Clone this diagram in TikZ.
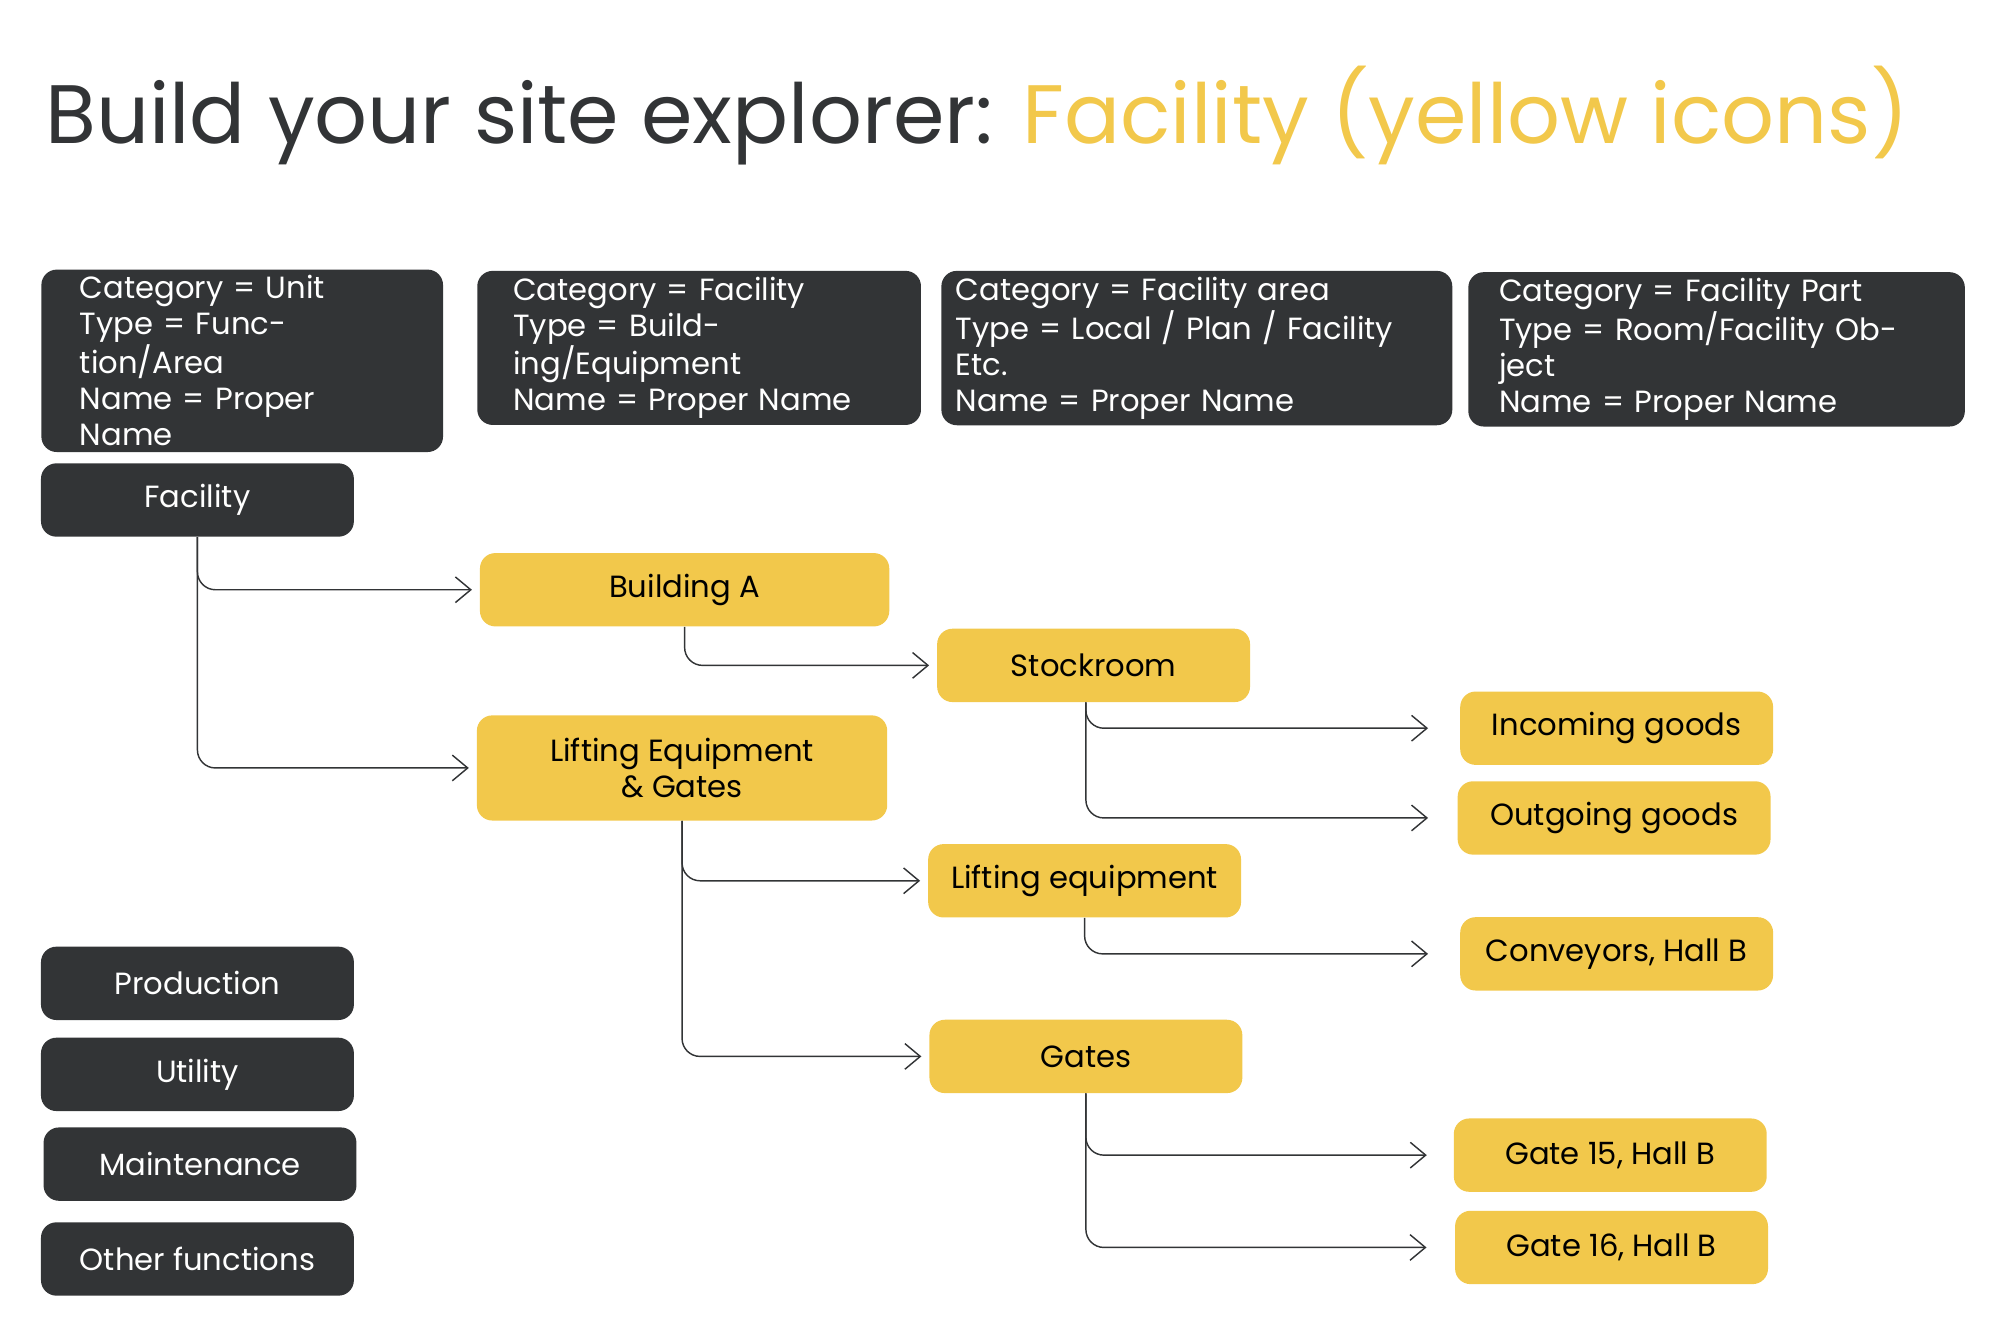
\documentclass[tikz,border=0pt]{standalone}
\usepackage{fontspec}
\setmainfont{Poppins}
\usetikzlibrary{arrows.meta}
\definecolor{darkgrey}{HTML}{323436}
\definecolor{sunyellow}{HTML}{F2C84B}
\begin{document}
\begin{tikzpicture}
        [x=0.025cm, y=-0.025cm,
        darkbox/.style={fill=darkgrey, text=white, rounded corners=0.3cm, minimum width=6.1cm, minimum height=1.43cm, font=\fontsize{17}{20}\selectfont},
        header/.style={darkbox, anchor=north west, align=left, minimum height=2.9cm, font=\fontsize{17}{20}\selectfont},
        item/.style={fill=sunyellow, text=black, rounded corners=0.3cm, minimum width=6.1cm, minimum height=1.43cm, font=\fontsize{17}{20}\selectfont},
        conn/.style={thick, darkgrey, rounded corners=0.35cm, -{Straight Barb[length=0.3cm, width=0.5cm]}, shorten >=0.15cm}]

        \useasboundingbox (0,0) rectangle (1560,1040);

        % title
        \node[anchor=base west, inner sep=0, font=\fontsize{46}{50}\selectfont] (title) at (35,112)
            {\textcolor{darkgrey}{Build your site explorer:} \textcolor{sunyellow}{Facility (yellow icons)}};

        % category headers
        \node[header, inner xsep=0.75cm, text width=6.33cm] (hunit) at (32,210) {Category = Unit\\Type = Function/Area\\Name = Proper Name};
        \node[header, inner xsep=0.7cm, text width=7.25cm] (hfac) at (372,211) {Category = Facility\\Type = Building/Equipment\\Name = Proper Name};
        \node[header, inner xsep=0.28cm, text width=9.4cm] (harea) at (734,211) {Category = Facility area\\Type = Local / Plan / Facility Etc.\\Name = Proper Name};
        \node[header, inner xsep=0.6cm, text width=8.48cm] (hpart) at (1145,212) {Category = Facility Part\\Type = Room/Facility Object\\Name = Proper Name};

        % units
        \node[darkbox] (facility) at (154,390) {Facility};
        \node[darkbox] (prod) at (154,767) {Production};
        \node[darkbox] (util) at (154,838) {Utility};
        \node[darkbox] (maint) at (156,908) {Maintenance};
        \node[darkbox] (other) at (154,982) {Other functions};

        % facilities
        \node[item, minimum width=7.98cm] (bldA) at (534,460) {Building A};
        \node[item, minimum width=8cm, minimum height=2.05cm, align=center] (lift) at (532,599) {Lifting Equipment\\\& Gates};

        % facility areas
        \node[item] (stock) at (853,519) {Stockroom};
        \node[item] (lifteq) at (846,687) {Lifting equipment};
        \node[item] (gates) at (847,824) {Gates};

        % facility parts
        \node[item] (inc) at (1261,568) {Incoming goods};
        \node[item] (out) at (1259,638) {Outgoing goods};
        \node[item] (conv) at (1261,744) {Conveyors, Hall B};
        \node[item] (g15) at (1256,901) {Gate 15, Hall B};
        \node[item] (g16) at (1257,973) {Gate 16, Hall B};

        % connectors
        \draw[conn] (facility.south) |- (bldA.west);
        \draw[conn] (facility.south) |- (lift.west);
        \draw[conn] (bldA.south) |- (stock.west);
        \draw[conn] (lift.south) |- (lifteq.west);
        \draw[conn] (lift.south) |- (gates.west);
        \draw[conn, shorten >=0.62cm] ([xshift=-0.15cm]stock.south) |- (inc.west);
        \draw[conn, shorten >=0.57cm] ([xshift=-0.15cm]stock.south) |- (out.west);
        \draw[conn, shorten >=0.62cm] (lifteq.south) |- (conv.west);
        \draw[conn, shorten >=0.52cm] (gates.south) |- (g15.west);
        \draw[conn, shorten >=0.55cm] (gates.south) |- (g16.west);

\end{tikzpicture}
\end{document}
